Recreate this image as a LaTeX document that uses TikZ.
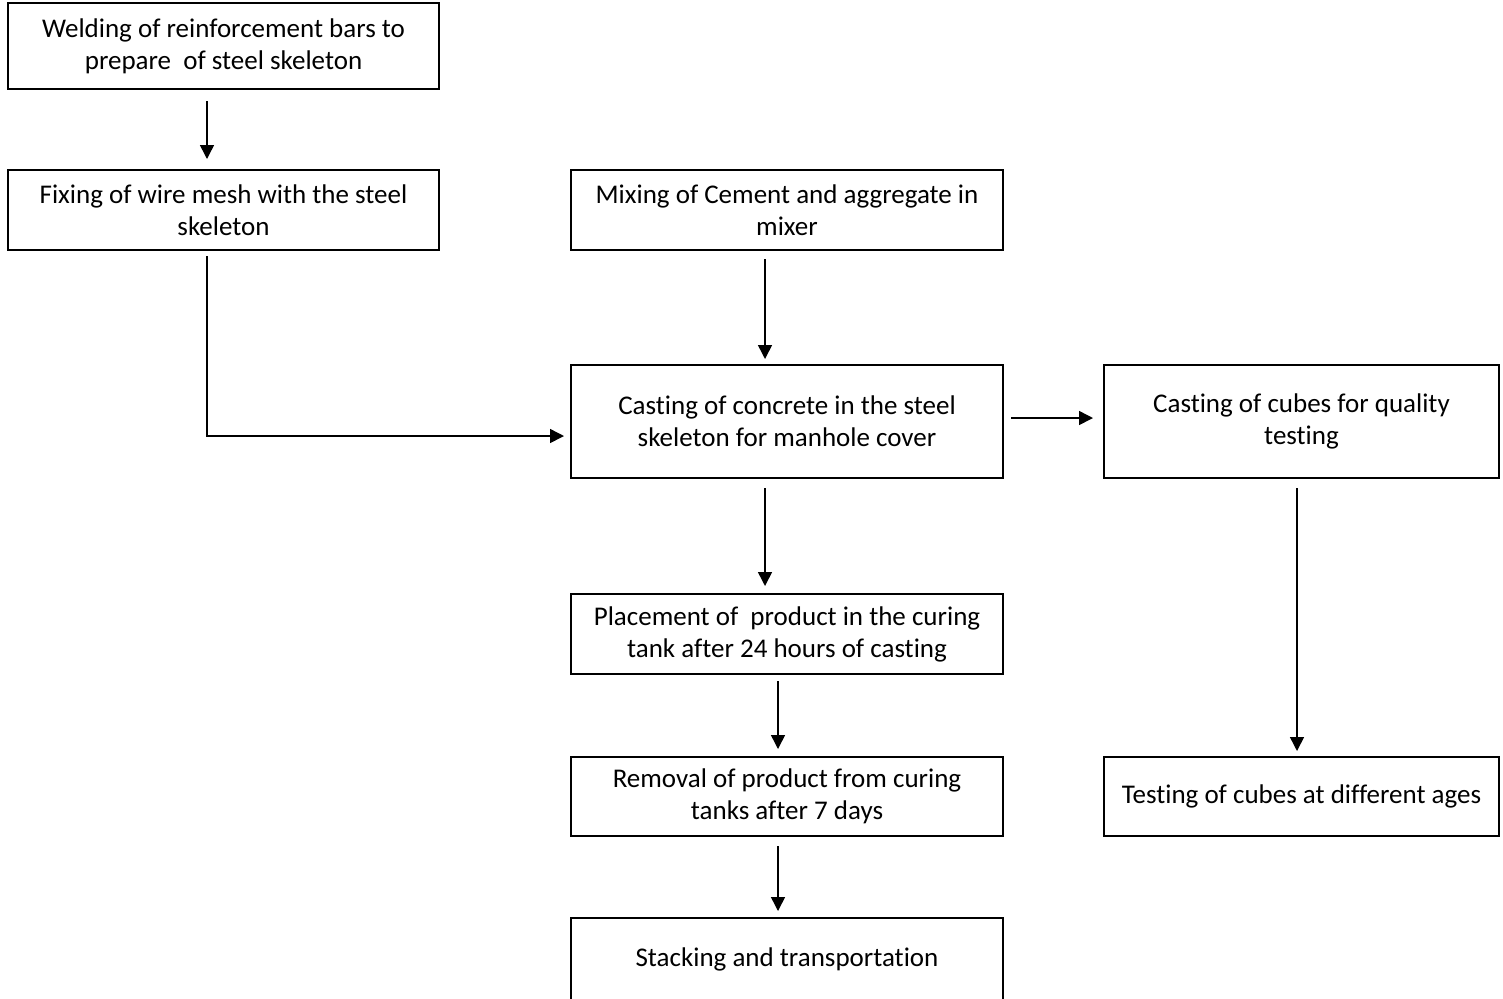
\documentclass[tikz,border=0pt]{standalone}
\usepackage{fontspec}
\setmainfont{Carlito}[RawFeature={-liga}]
\usetikzlibrary{arrows.meta}

\begin{document}
\begin{tikzpicture}[x=0.5pt, y=-0.5pt, every node/.style={draw, line width=1pt, inner sep=0pt, align=center, font=\fontsize{13.5pt}{16pt}\selectfont}, arr/.style={-{Triangle[length=7pt,width=7pt]}, line width=0.75pt}]

\clip (0,0) rectangle (1503,998);

\node[minimum width=215.5pt, minimum height=43pt] (weld) at (223.5,46) {Welding of reinforcement bars to\\prepare~ of steel skeleton};
\node[minimum width=215.5pt, minimum height=40pt] (fix) at (223.5,210) {Fixing of wire mesh with the steel\\skeleton};
\node[minimum width=216pt, minimum height=40pt] (mix) at (787,210) {Mixing of Cement and aggregate in\\mixer};
\node[minimum width=216pt, minimum height=56.5pt] (cast) at (787,421.5) {Casting of concrete in the steel\\skeleton for manhole cover};
\node[minimum width=197.5pt, minimum height=56.5pt] (cube) at (1301.5,421.5) {Casting of cubes for quality\\testing};
\node[minimum width=216pt, minimum height=40pt] (place) at (787,634) {Placement of~ product in the curing\\tank after 24 hours of casting};
\node[minimum width=216pt, minimum height=39.5pt] (remove) at (787,796.5) {Removal of product from curing\\tanks after 7 days};
\node[minimum width=216pt, minimum height=41pt] (stack) at (787,959) {Stacking and transportation};
\node[minimum width=197.5pt, minimum height=39.5pt] (test) at (1301.5,796.5) {Testing of cubes at different ages};

\coordinate (lane) at (207,0);
\coordinate (bend) at (207,436);
\coordinate (midlane) at (765,0);
\coordinate (lowlane) at (778,0);
\coordinate (side) at (0,418);
\coordinate (rightlane) at (1297,0);

\draw[arr, shorten <=5.5pt, shorten >=5pt] (weld.south -| lane) -- (fix.north -| lane);
\draw[arr, shorten <=2.5pt, shorten >=3pt] (fix.south -| lane) -- (bend) -- (cast.west |- bend);
\draw[arr, shorten <=4pt, shorten >=2.5pt] (mix.south -| midlane) -- (cast.north -| midlane);
\draw[arr, shorten <=3.5pt, shorten >=5pt] (cast.east |- side) -- (cube.west |- side);
\draw[arr, shorten <=4.5pt, shorten >=3.5pt] (cast.south -| midlane) -- (place.north -| midlane);
\draw[arr, shorten <=3pt, shorten >=3.5pt] (place.south -| lowlane) -- (remove.north -| lowlane);
\draw[arr, shorten <=4.5pt, shorten >=3pt] (remove.south -| lowlane) -- (stack.north -| lowlane);
\draw[arr, shorten <=4.5pt, shorten >=2.5pt] (cube.south -| rightlane) -- (test.north -| rightlane);

\end{tikzpicture}
\end{document}
